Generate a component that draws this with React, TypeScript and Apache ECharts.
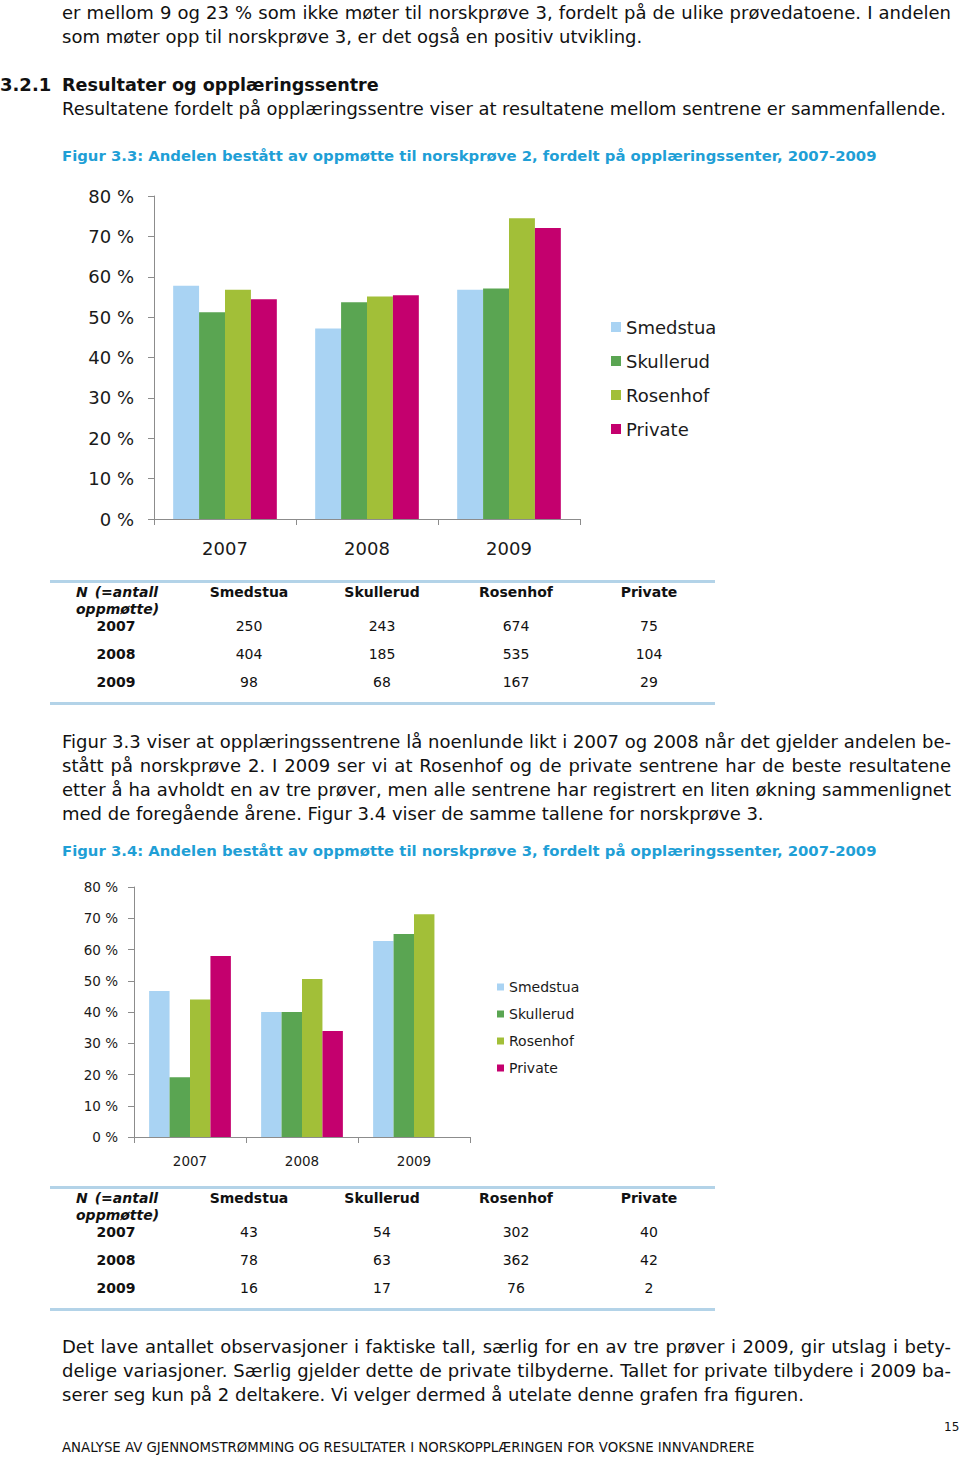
import React, { useEffect, useRef } from "react";
import * as echarts from "echarts";

const categories = ["2007", "2008", "2009"];
const seriesNames = ["Smedstua", "Skullerud", "Rosenhof", "Private"];
const colors = ["#a9d3f3", "#5aa552", "#a2bf38", "#c4006e"];

// Figur 3.3 (norskprøve 2), share passed, %
const smedstua33 = [57.8, 47.2, 56.8];
const skullerud33 = [51.2, 53.7, 57.1];
const rosenhof33 = [56.8, 55.1, 74.5];
const private33 = [54.4, 55.4, 72.1];

// Figur 3.4 (norskprøve 3), share passed, %
const smedstua34 = [46.7, 40.0, 62.7];
const skullerud34 = [19.1, 40.0, 65.0];
const rosenhof34 = [44.0, 50.6, 71.3];
const private34: (number | null)[] = [57.9, 33.9, null];

const yTicks = { min: 0, max: 80, interval: 10 };

// Tables N (=antall oppmøtte)
const tableYears = ["2007", "2008", "2009"];
const table33 = [
  [250, 243, 674, 75],
  [404, 185, 535, 104],
  [98, 68, 167, 29],
];
const table34 = [
  [43, 54, 302, 40],
  [78, 63, 362, 42],
  [16, 17, 76, 2],
];

const FONT = '"DejaVu Sans", Verdana, sans-serif';

function buildOption(
  values: (number | null)[][],
  cfg: {
    gridLeft: number; gridTop: number; gridW: number; gridH: number;
    labelSize: number; labelMarginY: number; labelMarginX: number;
    legendLeft: number; legendTop: number; legendIcon: number; legendFont: number; legendGap: number;
  }
) {
  return {
    animation: false,
    grid: { left: cfg.gridLeft, top: cfg.gridTop, width: cfg.gridW, height: cfg.gridH, containLabel: false },
    legend: {
      orient: "vertical",
      left: cfg.legendLeft,
      top: cfg.legendTop,
      padding: 0,
      icon: "rect",
      itemWidth: cfg.legendIcon,
      itemHeight: cfg.legendIcon,
      itemGap: cfg.legendGap,
      textStyle: { fontSize: cfg.legendFont, color: "#1a1a1a", fontFamily: FONT },
      data: seriesNames,
    },
    xAxis: {
      type: "category",
      data: categories,
      axisLine: { lineStyle: { color: "#8c8c8c", width: 1 } },
      axisTick: { show: true, length: 6, lineStyle: { color: "#8c8c8c" } },
      axisLabel: { fontSize: cfg.labelSize, color: "#1a1a1a", fontFamily: FONT, margin: cfg.labelMarginX },
    },
    yAxis: {
      type: "value",
      min: yTicks.min,
      max: yTicks.max,
      interval: yTicks.interval,
      splitLine: { show: false },
      axisLine: { show: true, lineStyle: { color: "#8c8c8c", width: 1 } },
      axisTick: { show: true, length: 6, lineStyle: { color: "#8c8c8c" } },
      axisLabel: { fontSize: cfg.labelSize, color: "#1a1a1a", fontFamily: FONT, margin: cfg.labelMarginY, formatter: "{value} %" },
    },
    series: seriesNames.map((name, i) => ({
      name,
      type: "bar",
      data: values[i],
      barGap: "0%",
      barCategoryGap: "27%",
      itemStyle: { color: colors[i] },
    })),
  };
}

function Chart({ option, left, top, width, height }: any) {
  const ref = useRef<HTMLDivElement>(null);
  useEffect(() => {
    if (!ref.current) return;
    const c = echarts.init(ref.current, undefined, { renderer: "svg" });
    c.setOption(option);
    return () => c.dispose();
  }, []);
  return <div ref={ref} style={{ position: "absolute", left, top, width, height }} />;
}

function Line({ x, y, w, text, size = 18, bold = false, italic = false, color = "#111", justify = true, align = "left" }: any) {
  return (
    <div
      style={{
        position: "absolute",
        left: x,
        top: y - 12,
        width: w,
        height: 24,
        lineHeight: "24px",
        fontSize: size,
        fontWeight: bold ? "bold" : "normal",
        fontStyle: italic ? "italic" : "normal",
        color,
        whiteSpace: "nowrap",
        fontFamily: FONT,
        textAlign: justify ? "justify" : align,
        textAlignLast: justify ? "justify" : align,
      } as any}
    >
      {text}
    </div>
  );
}

function Table({ top, data }: { top: number; data: number[][] }) {
  const colX = [249, 382, 516, 649];
  const rowY = [top + 45, top + 73, top + 101];
  const els: any[] = [];
  els.push(<div key="t" style={{ position: "absolute", left: 50, top: top - 1, width: 665, height: 3, background: "#b3d3e8" }} />);
  els.push(<div key="b" style={{ position: "absolute", left: 50, top: top + 121, width: 665, height: 3, background: "#b3d3e8" }} />);
  els.push(<Line key="n1" x={76} y={top + 11} w={82} text="N (=antall" size={14} bold italic />);
  els.push(<Line key="n2" x={76} y={top + 28} w={82} text="oppmøtte)" size={14} bold italic />);
  seriesNames.forEach((s, i) => {
    els.push(<Line key={"h" + i} x={colX[i] - 70} y={top + 11} w={140} text={s} size={14} bold justify={false} align="center" />);
  });
  tableYears.forEach((yr, r) => {
    els.push(<Line key={"y" + r} x={76} y={rowY[r]} w={80} text={yr} size={14} bold justify={false} align="center" />);
    data[r].forEach((v, c) => {
      els.push(<Line key={"v" + r + c} x={colX[c] - 70} y={rowY[r]} w={140} text={String(v)} size={14} justify={false} align="center" />);
    });
  });
  return <>{els}</>;
}

export default function App() {
  useEffect(() => {
    document.body.style.margin = "0";
  }, []);

  const opt33 = buildOption([smedstua33, skullerud33, rosenhof33, private33], {
    gridLeft: 154, gridTop: 26, gridW: 426, gridH: 323,
    labelSize: 18, labelMarginY: 20, labelMarginX: 20,
    legendLeft: 611, legendTop: 148, legendIcon: 10, legendFont: 18, legendGap: 16,
  });
  const opt34 = buildOption([smedstua34, skullerud34, rosenhof34, private34], {
    gridLeft: 134, gridTop: 17, gridW: 336, gridH: 250,
    labelSize: 13.5, labelMarginY: 16, labelMarginX: 17,
    legendLeft: 497, legendTop: 110, legendIcon: 7, legendFont: 14, legendGap: 13,
  });

  const CAP = "#1f9fd6";
  return (
    <div style={{ position: "absolute", left: 0, top: 0, width: 960, height: 1457, background: "#fff", overflow: "hidden" }}>
      <Line x={62} y={13} w={889} text="er mellom 9 og 23 % som ikke møter til norskprøve 3, fordelt på de ulike prøvedatoene. I andelen" />
      <Line x={62} y={37} w={582} text="som møter opp til norskprøve 3, er det også en positiv utvikling." justify={false} />
      <Line x={0} y={85} w={47} text="3.2.1" bold />
      <Line x={62} y={85} w={317} text="Resultater og opplæringssentre" size={17.6} bold justify={false} />
      <Line x={62} y={109} w={884} text="Resultatene fordelt på opplæringssentre viser at resultatene mellom sentrene er sammenfallende." size={17.9} justify={false} />
      <Line x={62} y={156} w={814} text="Figur 3.3: Andelen bestått av oppmøtte til norskprøve 2, fordelt på opplæringssenter, 2007-2009" size={14.85} bold color={CAP} justify={false} />

      <Chart option={opt33} left={0} top={170} width={960} height={400} />

      <Table top={581} data={table33} />

      <Line x={62} y={742} w={889} text="Figur 3.3 viser at opplæringssentrene lå noenlunde likt i 2007 og 2008 når det gjelder andelen be-" />
      <Line x={62} y={766} w={889} text="stått på norskprøve 2. I 2009 ser vi at Rosenhof og de private sentrene har de beste resultatene" />
      <Line x={62} y={790} w={889} text="etter å ha avholdt en av tre prøver, men alle sentrene har registrert en liten økning sammenlignet" />
      <Line x={62} y={814} w={705} text="med de foregående årene. Figur 3.4 viser de samme tallene for norskprøve 3." justify={false} />
      <Line x={62} y={851} w={814} text="Figur 3.4: Andelen bestått av oppmøtte til norskprøve 3, fordelt på opplæringssenter, 2007-2009" size={14.85} bold color={CAP} justify={false} />

      <Chart option={opt34} left={0} top={870} width={960} height={310} />

      <Table top={1187} data={table34} />

      <Line x={62} y={1347} w={889} text="Det lave antallet observasjoner i faktiske tall, særlig for en av tre prøver i 2009, gir utslag i bety-" />
      <Line x={62} y={1371} w={889} text="delige variasjoner. Særlig gjelder dette de private tilbyderne. Tallet for private tilbydere i 2009 ba-" />
      <Line x={62} y={1395} w={744} text="serer seg kun på 2 deltakere. Vi velger dermed å utelate denne grafen fra figuren." justify={false} />
      <Line x={944} y={1427} w={14} text="15" size={12} justify={false} />
      <Line x={62} y={1448} w={698} text="ANALYSE AV GJENNOMSTRØMMING OG RESULTATER I NORSKOPPLÆRINGEN FOR VOKSNE INNVANDRERE" size={13.3} justify={false} />
    </div>
  );
}
